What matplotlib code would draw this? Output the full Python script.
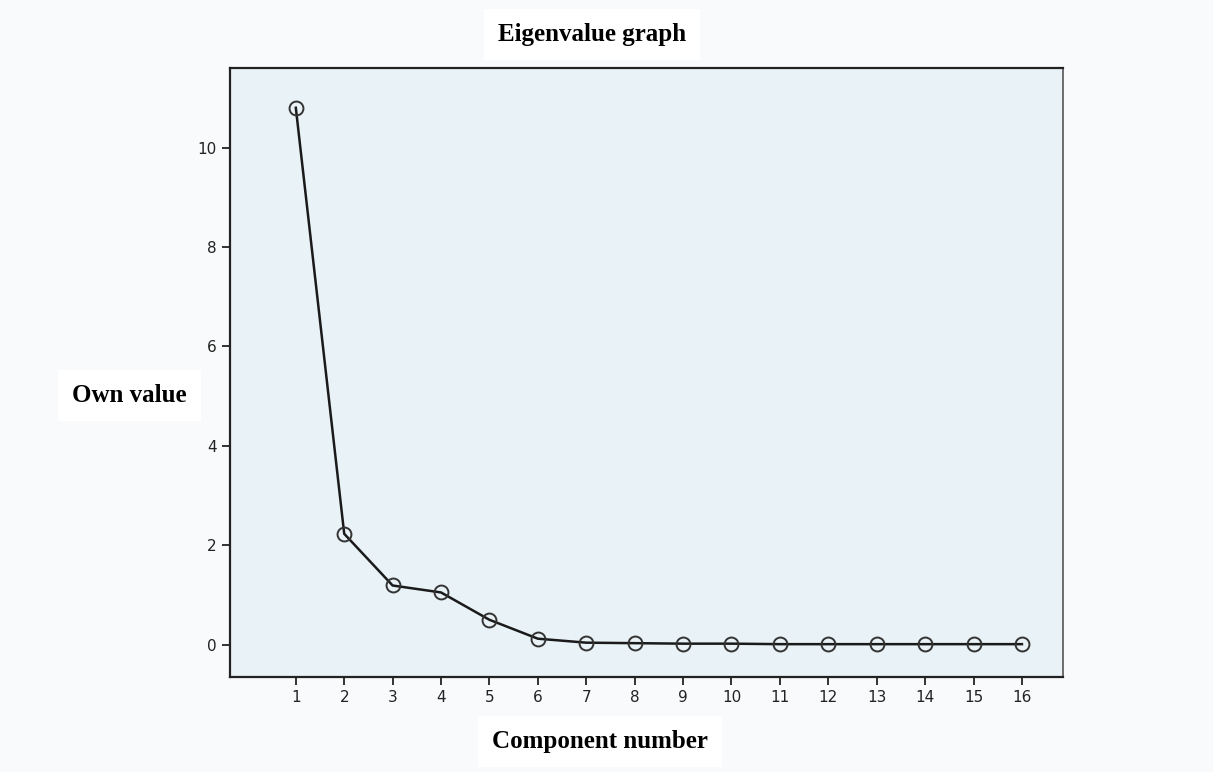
import matplotlib
matplotlib.use("Agg")
import matplotlib.pyplot as plt

components = list(range(1, 17))
eigenvalues = [10.8, 2.23, 1.19, 1.05, 0.50, 0.12, 0.04, 0.03, 0.02, 0.02, 0.01, 0.01, 0.01, 0.01, 0.01, 0.01]
y_ticks = [0, 2, 4, 6, 8, 10]

fig = plt.figure(figsize=(12.13, 7.72), dpi=100, facecolor="#f8fafb")
ax = fig.add_axes([0.1896, 0.1231, 0.6868, 0.7888])
ax.set_facecolor("#e9f2f6")

ax.plot(components, eigenvalues, color="#1a1a1a", linewidth=1.8,
        marker="o", markersize=10, markerfacecolor="none",
        markeredgecolor="#333333", markeredgewidth=1.4)

ax.set_xlim(-0.36, 16.85)
ax.set_ylim(-0.65, 11.6)
ax.set_xticks(components)
ax.set_xticklabels([str(c) for c in components])
ax.set_yticks(y_ticks)
ax.set_yticklabels([str(t) for t in y_ticks])
ax.tick_params(axis="both", direction="out", length=6, width=1.3,
               labelsize=11, colors="#222222")
for s in ax.spines.values():
    s.set_color("#222222")
    s.set_linewidth(1.6)
ax.spines["right"].set_color("#555555")
ax.spines["right"].set_linewidth(1.2)

serif = ["Liberation Serif", "DejaVu Serif"]
fig.text(0.488, 0.955, "Eigenvalue graph", ha="center", va="center",
         fontsize=18, fontweight="bold", family=serif,
         bbox=dict(facecolor="white", edgecolor="none", pad=10))
fig.text(0.107, 0.488, "Own value", ha="center", va="center",
         fontsize=18, fontweight="bold", family=serif,
         bbox=dict(facecolor="white", edgecolor="none", pad=10))
fig.text(0.495, 0.039, "Component number", ha="center", va="center",
         fontsize=18, fontweight="bold", family=serif,
         bbox=dict(facecolor="white", edgecolor="none", pad=10))

fig.savefig("out.png", dpi=100, facecolor=fig.get_facecolor())
